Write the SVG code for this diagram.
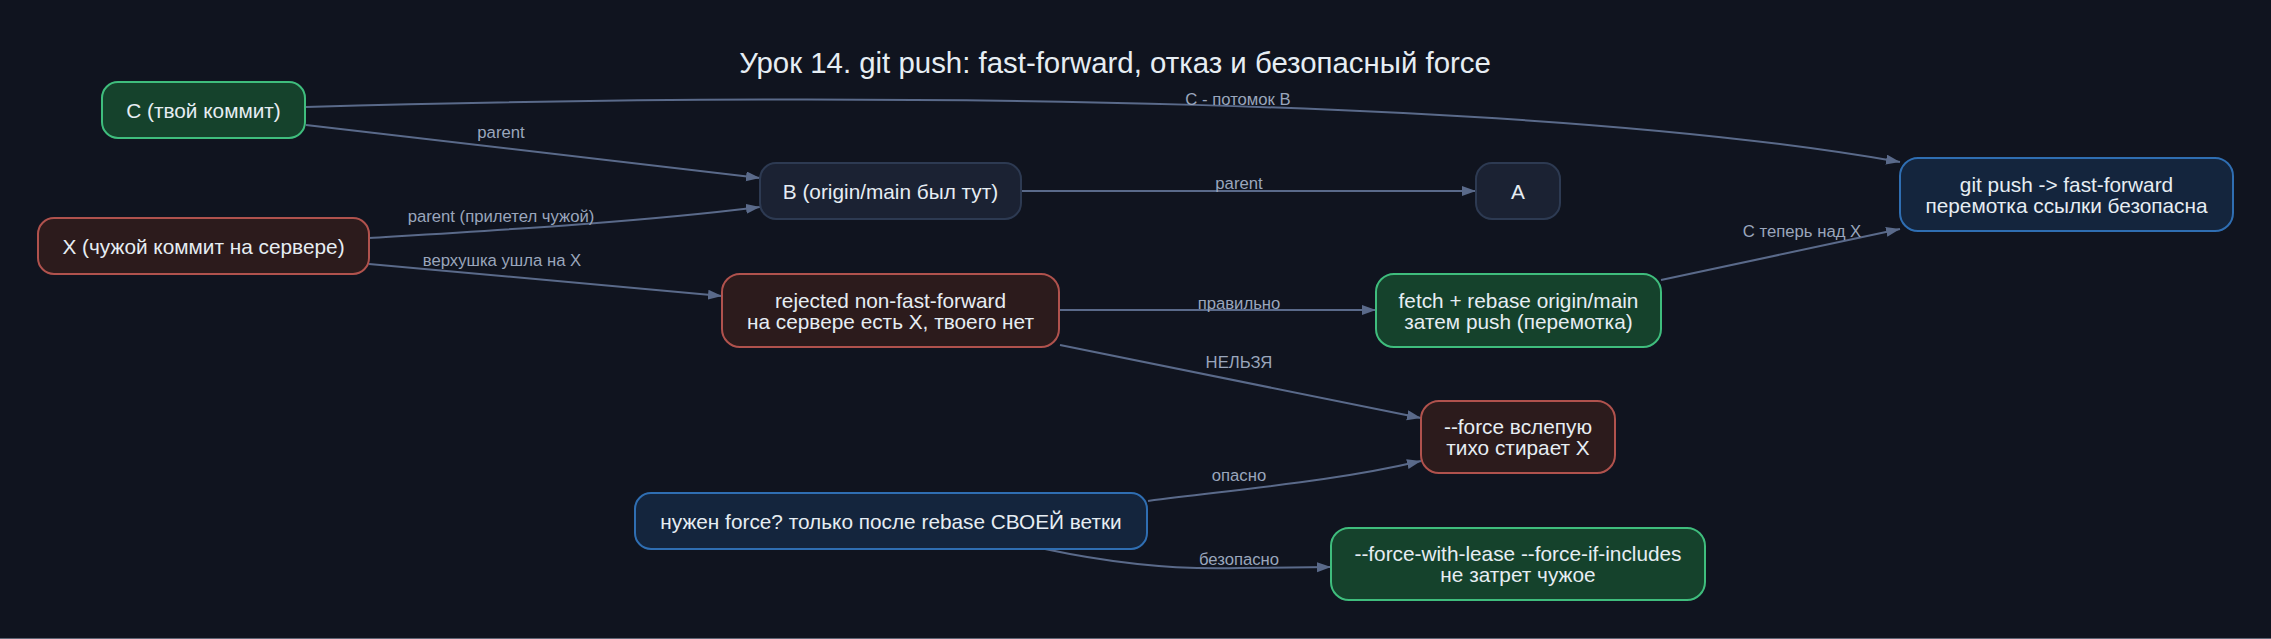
<svg xmlns="http://www.w3.org/2000/svg" width="2271" height="639" viewBox="0 0 2271 639">
<style>
  .bg{fill:#10141f}
  .t{font-family:"Liberation Sans",Arial,sans-serif;fill:#e6edf3;text-anchor:middle}
  .n{font-size:20.8px}
  .title{font-size:29.4px}
  .el{font-family:"Liberation Sans",Arial,sans-serif;font-size:16.7px;fill:#9aa6bc;text-anchor:middle}
  .e{fill:none;stroke:#5a6a8a;stroke-width:2}
  .green{fill:#15422c;stroke:#3fbd7d;stroke-width:2}
  .red{fill:#2c1b1c;stroke:#b0524d;stroke-width:2}
  .gray{fill:#1b2233;stroke:#2d3a52;stroke-width:2}
  .blue{fill:#14253d;stroke:#2f6eb2;stroke-width:2}
</style>
<defs>
  <marker id="arr" markerUnits="userSpaceOnUse" markerWidth="15" markerHeight="11" refX="14" refY="5" orient="auto">
    <path d="M0,0 L14,5 L0,10 z" fill="#5a6a8a"/>
  </marker>
</defs>
<rect class="bg" x="0" y="0" width="2271" height="639"/>
<rect x="0" y="638" width="2271" height="1" fill="#5f6675"/>
<text class="t title" x="1115" y="73">Урок 14. git push: fast-forward, отказ и безопасный force</text>

<g id="edges">
  <path class="e" marker-end="url(#arr)" d="M306,107 C900,90 1550,100 1900,162"/>
  <text class="el" x="1238" y="105">C - потомок B</text>

  <path class="e" marker-end="url(#arr)" d="M306,125 L760,178"/>
  <text class="el" x="501" y="138">parent</text>

  <path class="e" marker-end="url(#arr)" d="M369,238 C500,230 640,222 760,207"/>
  <text class="el" x="501" y="222">parent (прилетел чужой)</text>

  <path class="e" marker-end="url(#arr)" d="M369,264 L722,296"/>
  <text class="el" x="502" y="266">верхушка ушла на X</text>

  <path class="e" marker-end="url(#arr)" d="M1021,191 L1476,191"/>
  <text class="el" x="1239" y="189">parent</text>

  <path class="e" marker-end="url(#arr)" d="M1059,310 L1376,310"/>
  <text class="el" x="1239" y="309">правильно</text>

  <path class="e" marker-end="url(#arr)" d="M1661,280 L1900,229"/>
  <text class="el" x="1802" y="237">C теперь над X</text>

  <path class="e" marker-end="url(#arr)" d="M1060,345 L1421,418"/>
  <text class="el" x="1239" y="368">НЕЛЬЗЯ</text>

  <path class="e" marker-end="url(#arr)" d="M1148,501 C1260,487 1340,480 1421,461"/>
  <text class="el" x="1239" y="481">опасно</text>

  <path class="e" marker-end="url(#arr)" d="M1045,549 C1120,565 1180,570 1240,568 L1331,567"/>
  <text class="el" x="1239" y="565">безопасно</text>
</g>

<g id="node-C">
  <rect class="green" x="102" y="82" width="203" height="56" rx="16"/>
  <text class="t n" x="203.5" y="118">C (твой коммит)</text>
</g>
<g id="node-X">
  <rect class="red" x="38" y="218" width="331" height="56" rx="16"/>
  <text class="t n" x="203.5" y="254">X (чужой коммит на сервере)</text>
</g>
<g id="node-B">
  <rect class="gray" x="760" y="163" width="261" height="56" rx="16"/>
  <text class="t n" x="890.5" y="199">B (origin/main был тут)</text>
</g>
<g id="node-A">
  <rect class="gray" x="1476" y="163" width="84" height="56" rx="16"/>
  <text class="t n" x="1518" y="199">A</text>
</g>
<g id="node-ff">
  <rect class="blue" x="1900" y="158" width="333" height="73" rx="18"/>
  <text class="t n" x="2066.5" y="191.5">git push -&gt; fast-forward</text>
  <text class="t n" x="2066.5" y="212.5">перемотка ссылки безопасна</text>
</g>
<g id="node-rejected">
  <rect class="red" x="722" y="274" width="337" height="73" rx="18"/>
  <text class="t n" x="890.5" y="307.5">rejected non-fast-forward</text>
  <text class="t n" x="890.5" y="328.5">на сервере есть X, твоего нет</text>
</g>
<g id="node-fetch">
  <rect class="green" x="1376" y="274" width="285" height="73" rx="18"/>
  <text class="t n" x="1518.5" y="307.5">fetch + rebase origin/main</text>
  <text class="t n" x="1518.5" y="328.5">затем push (перемотка)</text>
</g>
<g id="node-force">
  <rect class="red" x="1421" y="401" width="194" height="72" rx="18"/>
  <text class="t n" x="1518" y="434">--force вслепую</text>
  <text class="t n" x="1518" y="455">тихо стирает X</text>
</g>
<g id="node-lease">
  <rect class="green" x="1331" y="528" width="374" height="72" rx="18"/>
  <text class="t n" x="1518" y="561">--force-with-lease --force-if-includes</text>
  <text class="t n" x="1518" y="582">не затрет чужое</text>
</g>
<g id="node-need">
  <rect class="blue" x="635" y="493" width="512" height="56" rx="16"/>
  <text class="t n" x="891" y="529">нужен force? только после rebase СВОЕЙ ветки</text>
</g>
</svg>
